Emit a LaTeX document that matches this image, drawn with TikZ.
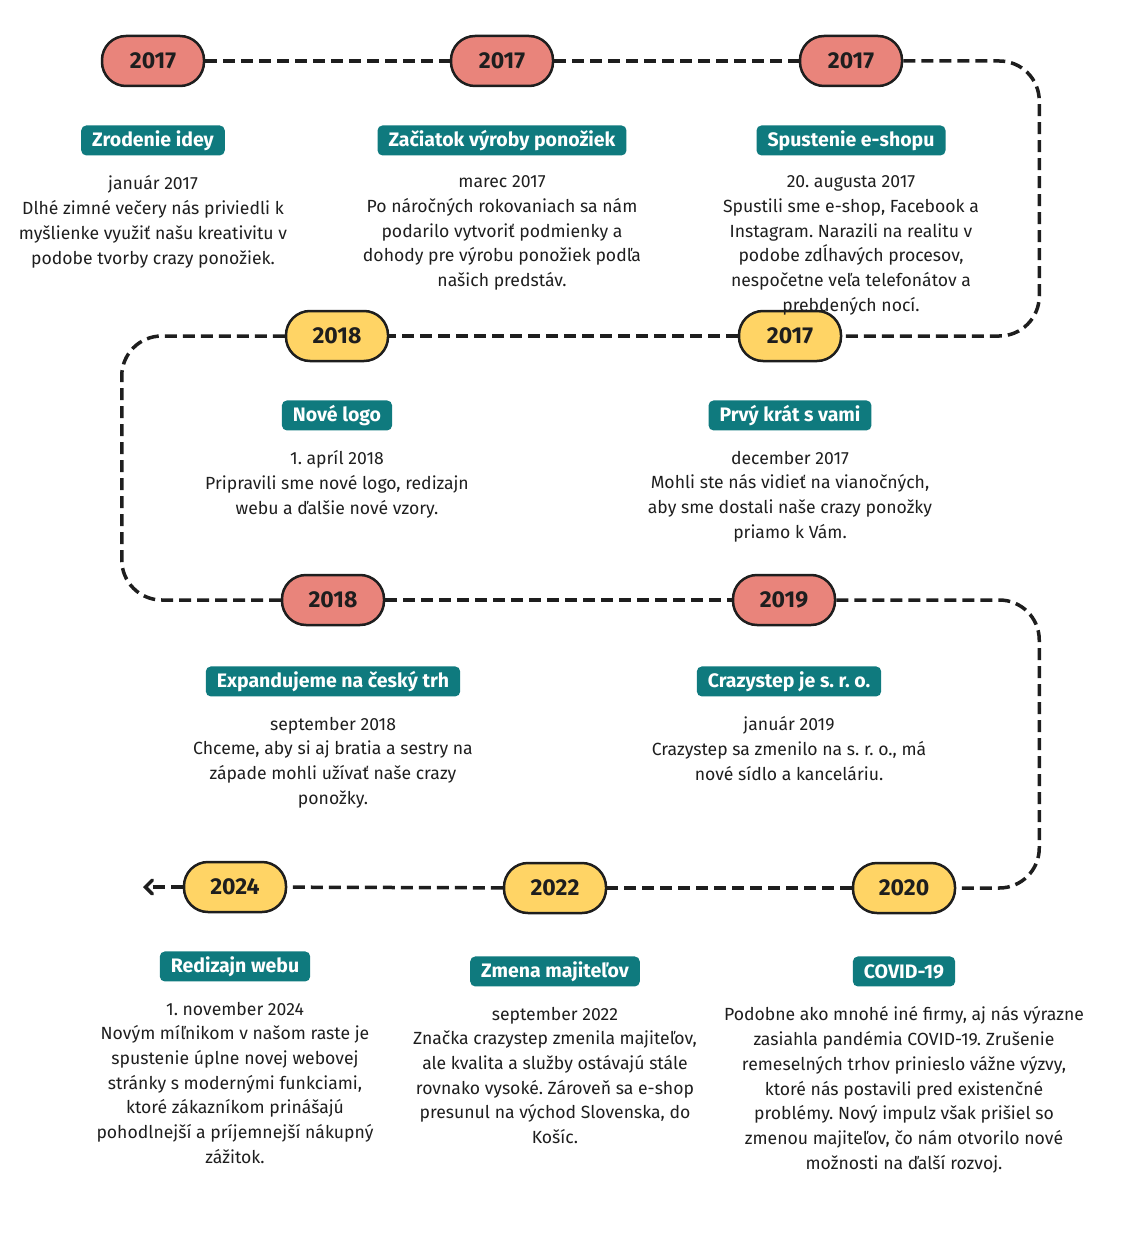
\documentclass[tikz,border=0pt]{standalone}
\usepackage{fontspec}
\setmainfont{Fira Sans}
\usetikzlibrary{positioning}
\usetikzlibrary{arrows.meta}
\frenchspacing

\definecolor{pillred}{HTML}{E9847B}
\definecolor{pillyellow}{HTML}{FFD465}
\definecolor{tealbox}{HTML}{0F7A7E}
\definecolor{inkdark}{HTML}{1E1E1E}

\begin{document}
\begin{tikzpicture}[
		x=1pt, y=-1pt,
		year/.style={
			draw=inkdark,
			line width=2.5pt,
			rounded corners=24pt,
			minimum width=102pt,
			minimum height=50pt,
			text=inkdark,
			font=\bfseries\fontsize{23}{25}\selectfont
		},
		redyear/.style={year, fill=pillred},
		yellowyear/.style={year, fill=pillyellow},
		title/.style={
			fill=tealbox,
			text=white,
			rounded corners=5pt,
			inner xsep=11pt,
			inner ysep=0pt,
			minimum height=30pt,
			font=\bfseries\fontsize{19.5}{21}\selectfont
		},
		desc/.style={
			align=center,
			inner sep=0pt,
			text=inkdark,
			font=\fontsize{17.6}{24.7}\selectfont
		},
		timeline/.style={
			draw=inkdark,
			line width=3.5pt,
			dash pattern=on 12pt off 6pt,
			rounded corners=40pt
		}]

		\useasboundingbox (0,0) rectangle (1132,1238);

		% years
		\node[redyear] at (153,61) (y1) {2017};
		\node[redyear] at (502,61) (y2) {2017};
		\node[redyear] at (851,61) (y3) {2017};
		\node[yellowyear] at (790,336) (y4) {2017};
		\node[yellowyear] at (337,336) (y5) {2018};
		\node[redyear] at (333,600) (y6) {2018};
		\node[redyear] at (784,600) (y7) {2019};
		\node[yellowyear] at (904,888) (y8) {2020};
		\node[yellowyear] at (555,888) (y9) {2022};
		\node[yellowyear] at (235,887) (y10) {2024};
		\coordinate (end) at (143,887);

		% timeline
		\draw[timeline] (y1) -- (y2);
		\draw[timeline] (y2) -- (y3);
		\draw[timeline] (y3.east) -- ++(136,0) |- (y4.east);
		\draw[timeline] (y4) -- (y5);
		\draw[timeline] (y5.west) -- ++(-163,0) |- (y6.west);
		\draw[timeline] (y6) -- (y7);
		\draw[timeline] (y7.east) -- ++(203,0) |- (y8.east);
		\draw[timeline] (y8) -- (y9);
		\draw[timeline] (y9) -- (y10);
		\draw[timeline, -{Straight Barb[length=7pt, width=14pt, line cap=round]}] (y10.west) -- (end);

		%labels
		\node[title, below=38pt of y1] (t1) {Zrodenie idey};
		\node[title, below=38pt of y2] (t2) {Začiatok výroby ponožiek};
		\node[title, below=38pt of y3] (t3) {Spustenie e-shopu};
		\node[title, below=38pt of y4] (t4) {Prvý krát s vami};
		\node[title, below=38pt of y5] (t5) {Nové logo};
		\node[title, below=40pt of y6] (t6) {Expandujeme na český trh};
		\node[title, below=40pt of y7, xshift=5pt] (t7) {Crazystep je s. r. o.};
		\node[title, below=42pt of y8] (t8) {COVID-19};
		\node[title, below=42pt of y9] (t9) {Zmena majiteľov};
		\node[title, below=38pt of y10] (t10) {Redizajn webu};

		\node[desc, below=20pt of t1] (d1) {január 2017\\Dlhé zimné večery nás priviedli k\\myšlienke využiť našu kreativitu v\\podobe tvorby crazy ponožiek.};
		\node[desc, below=20pt of t2] (d2) {marec 2017\\Po náročných rokovaniach sa nám\\podarilo vytvoriť podmienky a\\dohody pre výrobu ponožiek podľa\\našich predstáv.};
		\node[desc, below=20pt of t3] (d3) {20. augusta 2017\\Spustili sme e-shop, Facebook a\\Instagram. Narazili na realitu v\\podobe zdĺhavých procesov,\\nespočetne veľa telefonátov a\\prebdených nocí.};
		\node[desc, below=20pt of t4] (d4) {december 2017\\Mohli ste nás vidieť na vianočných,\\aby sme dostali naše crazy ponožky\\priamo k Vám.};
		\node[desc, below=20pt of t5] (d5) {1. apríl 2018\\Pripravili sme nové logo, redizajn\\webu a ďalšie nové vzory.};
		\node[desc, below=20pt of t6] (d6) {september 2018\\Chceme, aby si aj bratia a sestry na\\západe mohli užívať naše crazy\\ponožky.};
		\node[desc, below=20pt of t7] (d7) {január 2019\\Crazystep sa zmenilo na s. r. o., má\\nové sídlo a kanceláriu.};
		\node[desc, below=20pt of t8] (d8) {Podobne ako mnohé iné firmy, aj nás výrazne\\zasiahla pandémia COVID-19. Zrušenie\\remeselných trhov prinieslo vážne výzvy,\\ktoré nás postavili pred existenčné\\problémy. Nový impulz však prišiel so\\zmenou majiteľov, čo nám otvorilo nové\\možnosti na ďalší rozvoj.};
		\node[desc, below=20pt of t9] (d9) {september 2022\\Značka crazystep zmenila majiteľov,\\ale kvalita a služby ostávajú stále\\rovnako vysoké. Zároveň sa e-shop\\presunul na východ Slovenska, do\\Košíc.};
		\node[desc, below=20pt of t10] (d10) {1. november 2024\\Novým míľnikom v našom raste je\\spustenie úplne novej webovej\\stránky s modernými funkciami,\\ktoré zákazníkom prinášajú\\pohodlnejší a príjemnejší nákupný\\zážitok.};

	\end{tikzpicture}
\end{document}
